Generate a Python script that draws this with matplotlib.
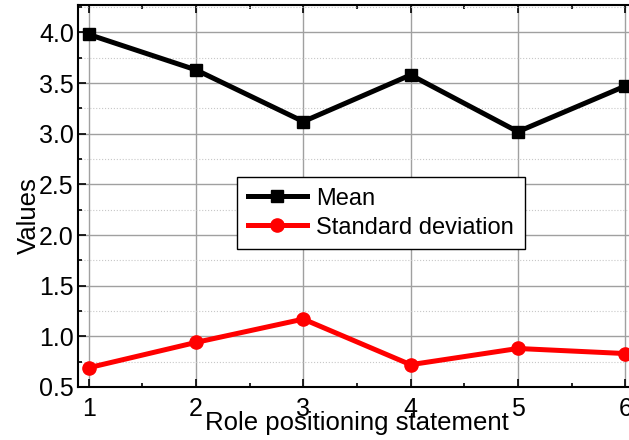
import matplotlib
matplotlib.use("Agg")
import matplotlib.pyplot as plt
from matplotlib.ticker import MultipleLocator

plt.rcParams['font.family'] = ['Liberation Sans', 'DejaVu Sans']

# Survey results per statement
statements = [1, 2, 3, 4, 5, 6]
mean_vals = [3.98, 3.63, 3.12, 3.58, 3.02, 3.47]
std_vals = [0.69, 0.94, 1.17, 0.72, 0.88, 0.83]

fig = plt.figure(figsize=(6.29, 4.40), dpi=100)
# right edge runs past the figure so no right spine shows
ax = fig.add_axes([0.124, 0.1205, 0.887, 0.868])

ax.plot(statements, mean_vals, color='black', lw=3.6, marker='s', ms=8.5,
        label='Mean', zorder=3)
ax.plot(statements, std_vals, color='red', lw=3.6, marker='o', ms=9.5,
        label='Standard deviation', zorder=3)

ax.set_xlim(0.9, 6.1)
ax.set_ylim(0.5, 4.27)
ax.xaxis.set_major_locator(MultipleLocator(1))
ax.xaxis.set_minor_locator(MultipleLocator(0.5))
ax.yaxis.set_major_locator(MultipleLocator(0.5))
ax.yaxis.set_minor_locator(MultipleLocator(0.25))

ax.grid(which='major', color='#a0a0a0', lw=1.0, ls='-')
ax.grid(which='minor', axis='y', color='#c8c8c8', lw=0.8, ls=':')
ax.set_axisbelow(True)

ax.tick_params(which='both', direction='in', top=True, labelsize=18, width=1.2)
ax.tick_params(which='major', length=6)
ax.tick_params(which='minor', length=3)
ax.tick_params(axis='x', pad=7)
ax.tick_params(axis='y', pad=3)
for s in ax.spines.values():
    s.set_linewidth(1.5)

ax.set_xlabel('Role positioning statement', fontsize=18.5, labelpad=-7)
ax.set_ylabel('Values', fontsize=18.5)
ax.yaxis.set_label_coords(-0.066, 0.45)

leg = ax.legend(loc='upper left', bbox_to_anchor=(0.377, 0.598),
                bbox_transform=fig.transFigure, borderaxespad=0,
                fontsize=17, frameon=True, fancybox=False, framealpha=1,
                edgecolor='black', handlelength=2.5, handletextpad=0.4,
                borderpad=0.45, labelspacing=0.3)
leg.get_frame().set_linewidth(1.0)

fig.savefig('out.png', dpi=100)
